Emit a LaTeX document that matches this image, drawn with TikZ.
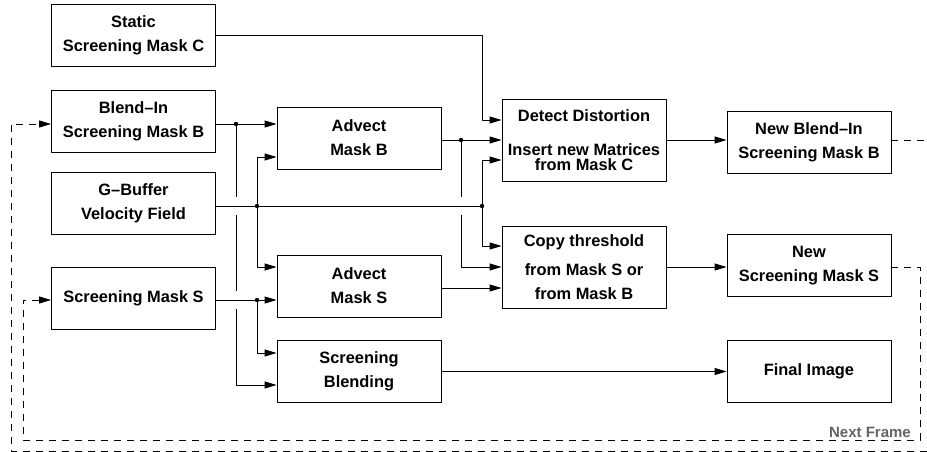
\documentclass[tikz,border=0pt]{standalone}
\usepackage{fontspec}
\setmainfont{Liberation Sans}
\usetikzlibrary{arrows.meta,calc}

\definecolor{framegray}{RGB}{100,100,100}

\tikzset{
  box/.style={draw, line width=0.9pt, minimum width=164pt, minimum height=62pt,
    inner sep=0pt, align=center, font=\fontsize{16.4}{24}\selectfont\bfseries},
  tallbox/.style={box, minimum height=82pt},
  wire/.style={line width=0.9pt},
  flow/.style={wire, ->},
  loop/.style={wire, dash pattern=on 7pt off 6pt},
}

\begin{document}
\begin{tikzpicture}[x=1pt, y=-1pt, line join=round, >={Triangle[length=12pt,width=7pt]}]
	\useasboundingbox (0,0) rectangle (927,452);
	% --- input buffers
	\node[box] (maskC) at (133.5,35.5) {Static\\Screening Mask C};
	\node[box] (maskB) at (133.5,121.5) {Blend\textendash In\\Screening Mask B};
	\node[box] (gbuf) at (133.5,203.5) {G\textendash Buffer\\Velocity Field};
	\node[box] (maskS) at (133.5,298) {Screening Mask S};
	% --- passes
	\node[box] (advB) at (359,138) {Advect\\Mask B};
	\node[box] (advS) at (359,286) {Advect\\Mask S};
	\node[box] (blend) at (359,371.5) {Screening\\Blending};
	\node[tallbox] (detect) at (584,140) {Detect Distortion\\[10pt]Insert new Matrices\\[-9pt]from Mask C};
	\node[tallbox] (copy) at (584,267) {Copy threshold\\[5pt]from Mask S or\\from Mask B};
	% --- outputs
	\node[box] (newB) at (809,142.5) {New Blend\textendash In\\Screening Mask B};
	\node[box] (newS) at (809,265.5) {New\\Screening Mask S};
	\node[box] (final) at (809,371.5) {Final Image};
	% --- junctions and bends
	\coordinate (jB) at (236,124);
	\coordinate (jG) at (257,206);
	\coordinate (jS) at (257,300);
	\coordinate (jA) at (461,140);
	\coordinate (jD) at (482,206);
	\coordinate (kC) at (482,120);
	% static mask C
	\draw[flow] (maskC.east) -| (kC) -- (kC -| detect.west);
	% blend-in mask B, broken where it crosses
	\draw[flow] (maskB.east |- jB) -- (jB -| advB.west);
	\draw[wire] (jB) -- ($(jB |- jG)+(0,-9)$) ($(jB |- jG)+(0,9)$) -- ($(jB |- jS)+(0,-9)$);
	\draw[flow] ($(jB |- jS)+(0,9)$) |- ($(blend.west)+(0,13.5)$);
	% velocity field
	\draw[wire] (gbuf.east |- jG) -- (jD);
	\draw[flow] (jG) |- ($(advB.west)+(0,19)$);
	\draw[flow] (jG) |- ($(advS.west)+(0,-19)$);
	\draw[flow] (jD) |- ($(detect.west)+(0,20)$);
	\draw[flow] (jD) |- ($(copy.west)+(0,-21)$);
	% screening mask S
	\draw[flow] (maskS.east |- jS) -- (jS -| advS.west);
	\draw[flow] (jS) |- ($(blend.west)+(0,-18.5)$);
	% advected masks
	\draw[flow] (advB.east |- jA) -- (jA -| detect.west);
	\draw[wire] (jA) -- ($(jA |- jG)+(0,-9)$);
	\draw[flow] ($(jA |- jG)+(0,9)$) |- (copy.west);
	\draw[flow] ($(advS.east)+(0,2)$) -- ($(copy.west)+(0,21)$);
	% results
	\draw[flow] (blend.east) -- (final.west);
	\draw[flow] (detect.east) -- (newB.west |- detect.east);
	\draw[flow] (copy.east) -- (newS.west |- copy.east);
	\foreach \j in {jB,jG,jS,jA,jD} \fill (\j) circle (2.2pt);
	% --- feedback to the next frame
	\coordinate (outB) at (927,140);
	\coordinate (fbS) at (920,440);
	\coordinate (fbS2) at (23,440);
	\coordinate (fbB) at (927,451);
	\coordinate (fbB2) at (11,451);
	\draw[loop] (newB.east |- outB) -- (outB);
	\draw[loop,->] (newS.east |- copy.east) -| (fbS) -- (fbS2) |- (maskS.west |- jS);
	\draw[loop,->] (fbB) -- (fbB2) |- (maskB.west |- jB);
	\node[anchor=base east, inner sep=0pt, text=framegray, font=\fontsize{15}{18}\selectfont\bfseries] (nextlbl) at (911,437) {Next Frame};
\end{tikzpicture}
\end{document}
